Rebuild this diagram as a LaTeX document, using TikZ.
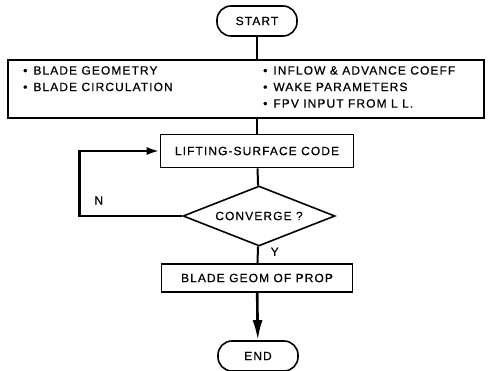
\documentclass[tikz,border=0pt]{standalone}
\usepackage{fontspec}
\usetikzlibrary{shapes,arrows,arrows.meta}
\newfontfamily\chartfont{Liberation Sans}[LetterSpace=9,FakeBold=0.5]

\begin{document}
\begin{tikzpicture}[x=1pt,y=1pt]
		\tikzstyle {terminal} = [draw, line width=1.6pt, rounded corners=14pt, minimum width=80pt, minimum height=30pt]
		\tikzstyle {process} = [draw, line width=1.6pt, inner sep=0pt]
		\tikzstyle {decision} = [draw, line width=1.6pt, diamond, aspect=2.5, inner sep=0pt, minimum width=152pt, minimum height=60pt]
		\tikzstyle {flow line} = [line width=2pt]
		\tikzstyle {loop line} = [line width=2.6pt]
		\tikzstyle {bullet} = [anchor=north west, align=left, inner sep=0pt]

		\useasboundingbox (0,0) rectangle (488,-371);
		\chartfont\fontsize{12}{16.5}\selectfont

		\node[terminal] (start) at (257,-21) {START};
		\node[process, minimum width=476pt, minimum height=58pt] (inputs) at (246,-89) {};
		\node[bullet] (geomin) at (23,-66)
			{\textbullet\hspace{6pt}BLADE GEOMETRY\\ \textbullet\hspace{6pt}BLADE CIRCULATION};
		\node[bullet] (flowin) at (263,-66)
			{\textbullet\hspace{6pt}INFLOW \& ADVANCE COEFF\\ \textbullet\hspace{6pt}WAKE PARAMETERS\\ \textbullet\hspace{6pt}FPV INPUT FROM L L.};

		\node[process, minimum width=193pt, minimum height=33pt] (lsc) at (257,-151) {LIFTING-SURFACE CODE};
		\node[decision] (conv) at (259,-216) {CONVERGE ?};
		\node[process, minimum width=191pt, minimum height=28pt] (geom) at (257,-278) {BLADE GEOM OF PROP};
		\node[terminal] (stop) at (258,-356) {END};

		\draw[flow line] (start) -- (start |- inputs.north);
		\draw[flow line] (inputs.south -| lsc) -- (lsc);
		\draw[flow line] (lsc) -- (conv);
		\draw[flow line] (conv) -- node[right, xshift=8pt, yshift=3pt] {Y} (geom);
		\draw[loop line, -{Latex[length=20pt,width=10pt]}] (geom) -- (stop);

		% no: back round to the code
		\draw[loop line, -{Latex[length=13pt,width=8pt]}] (conv.west) -- ++(-103,0) node[above right, xshift=10pt, yshift=6pt] {N} |- (lsc.west);
	\end{tikzpicture}
\end{document}
